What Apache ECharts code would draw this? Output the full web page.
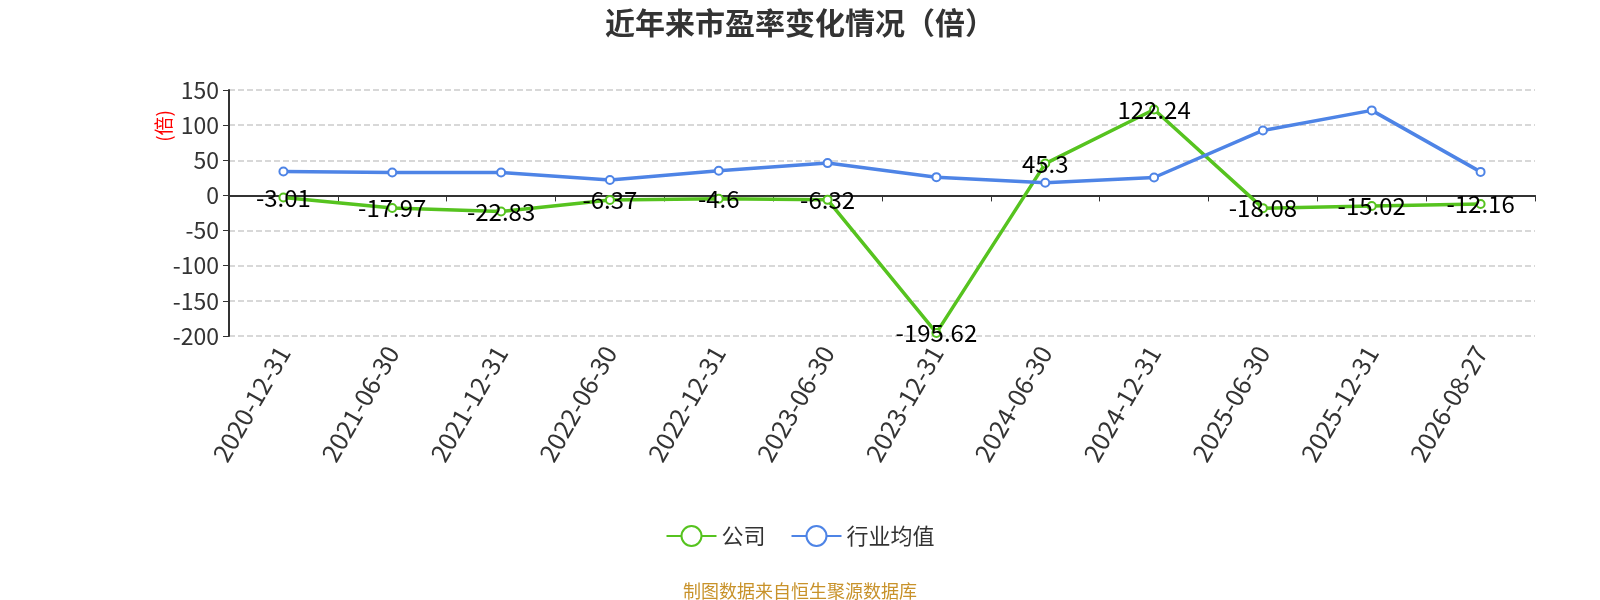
<!DOCTYPE html>
<html>
<head>
<meta charset="utf-8">
<title>近年来市盈率变化情况（倍）</title>
<script src="https://cdn.jsdelivr.net/npm/echarts@6/dist/echarts.min.js"></script>
<style>
    html, body { margin: 0; padding: 0; background: #fff; }
    #chart { width: 1600px; height: 600px; }
</style>
</head>
<body>
<div id="chart"></div>
<script>
// 横轴日期
const dates = ['2020-12-31', '2021-06-30', '2021-12-31', '2022-06-30', '2022-12-31', '2023-06-30',
    '2023-12-31', '2024-06-30', '2024-12-31', '2025-06-30', '2025-12-31', '2026-08-27'];

// 公司市盈率
const companyPE = [-3.01, -17.97, -22.83, -6.37, -4.6, -6.32, -195.62, 45.3, 122.24, -18.08, -15.02, -12.16];

// 行业均值
const industryPE = [34, 32.5, 32.5, 22, 35, 46, 26, 18, 25.5, 92.5, 121, 33.5];

// 纵轴范围
const yMin = -200;
const yMax = 150;
const yStep = 50;

const green = '#56c31f';
const blue = '#4e84e6';
const font = '"Noto Sans CJK SC", "Noto Sans", sans-serif';

const chart = echarts.init(document.getElementById('chart'));

const option = {
    textStyle: { fontFamily: font },
    title: [{
        text: '近年来市盈率变化情况（倍）',
        left: 'center',
        top: 3,
        textStyle: { fontSize: 30, fontWeight: 'bold', color: '#333' }
    }, {
        text: '制图数据来自恒生聚源数据库',
        left: 'center',
        top: 577,
        textStyle: { fontSize: 18, fontWeight: 'normal', color: '#c8922a' }
    }],
    legend: {
        bottom: 48,
        left: 'center',
        itemWidth: 50,
        itemHeight: 25,
        itemGap: 25,
        textStyle: { fontSize: 22, color: '#333' },
        data: ['公司', '行业均值']
    },
    graphic: [{
        type: 'text',
        left: 154,
        top: 110,
        rotation: Math.PI / 2,
        style: { text: '(倍)', fill: '#ff0000', font: '19px ' + font }
    }],
    grid: {
        left: 229,
        right: 65,
        top: 90,
        bottom: 264
    },
    xAxis: [{
        type: 'category',
        data: dates,
        axisLine: { onZero: true, lineStyle: { color: '#333', width: 2 } },
        axisTick: { show: true, length: 6, lineStyle: { color: '#333' } },
        axisLabel: { show: false }
    }, {
        type: 'category',
        data: dates,
        position: 'bottom',
        axisLine: { show: false, onZero: false },
        axisTick: { show: false },
        axisLabel: { rotate: 60, fontSize: 25, color: '#333', margin: 12 }
    }],
    yAxis: {
        type: 'value',
        min: yMin,
        max: yMax,
        interval: yStep,
        axisLine: { show: true, lineStyle: { color: '#333', width: 2 } },
        axisTick: { show: true, length: 6 },
        axisLabel: { fontSize: 23, color: '#333', margin: 10 },
        splitLine: { lineStyle: { type: 'dashed', color: '#ccc', width: 1.5 } }
    },
    series: [{
        name: '公司',
        type: 'line',
        data: companyPE,
        symbol: 'emptyCircle',
        symbolSize: 8,
        lineStyle: { color: green, width: 3.5 },
        itemStyle: { color: green },
        label: {
            show: true,
            position: 'inside',
            fontSize: 24,
            color: '#000'
        }
    }, {
        name: '行业均值',
        type: 'line',
        data: industryPE,
        symbol: 'emptyCircle',
        symbolSize: 8,
        lineStyle: { color: blue, width: 3.5 },
        itemStyle: { color: blue }
    }]
};

chart.setOption(option);

window.addEventListener('resize', function() {
    chart.resize();
});
</script>
</body>
</html>
